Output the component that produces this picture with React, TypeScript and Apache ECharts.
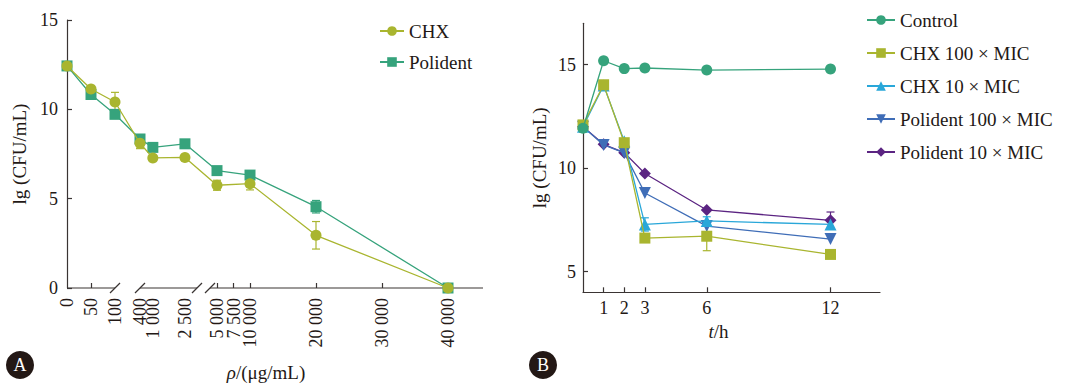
import React, { useEffect, useRef } from "react";
import * as echarts from "echarts";

// ---------- Panel A data ----------
const concentrations = [0, 50, 100, 400, 1000, 2500, 5000, 10000, 20000, 40000];
const chxValues = [12.43, 11.14, 10.41, 8.1, 7.28, 7.31, 5.75, 5.84, 2.95, 0];
const chxErrors = [0, 0, 0.54, 0.3, 0, 0, 0.28, 0.35, 0.77, 0];
const polidentValues = [12.43, 10.83, 9.72, 8.34, 7.87, 8.07, 6.57, 6.32, 4.55, 0];
const polidentErrors = [0, 0, 0, 0.15, 0, 0, 0, 0, 0.35, 0];

const leftLabelValues = [0, 50, 100, 400, 1000, 2500, 5000, 7500, 10000, 20000, 30000, 40000];
const leftLabelTexts = ["0", "50", "100", "400", "1 000", "2 500", "5 000", "7 500", "10 000", "20 000", "30 000", "40 000"];
const leftTickValues = [50, 5000, 7500, 10000, 20000, 30000, 40000];
const leftYTicks = [0, 5, 10, 15];

// ---------- Panel B data ----------
const times = [0, 1, 2, 3, 6, 12];
const controlValues = [11.93, 15.19, 14.81, 14.84, 14.74, 14.79];
const chx100Values = [12.09, 14.03, 11.23, 6.62, 6.71, 5.83];
const chx100Errors = [0, 0, 0, 0, 0.7, 0];
const chx10Values = [12.0, 14.0, 11.3, 7.28, 7.45, 7.28];
const chx10Errors = [0, 0, 0, 0.32, 0.2, 0];
const pol100Values = [12.0, 11.12, 10.74, 8.8, 7.2, 6.57];
const pol10Values = [12.0, 11.15, 10.75, 9.74, 7.98, 7.48];
const pol10Errors = [0, 0, 0, 0, 0, 0.4];
const rightXTicks = [1, 2, 3, 6, 12];
const rightYTicks = [5, 10, 15];

const FONT = "'Liberation Serif', 'DejaVu Serif', serif";
const TEXT = "#231815";
const AXIS = "#3a3433";
const OLIVE = "#a9b52f";
const TEAL = "#36a37c";
const CYAN = "#29a7d9";
const BLUE = "#3f6db7";
const PURPLE = "#5b2482";
const TICK_FS = 18;
const LEGEND_FS = 19;
const NAME_FS = 19;

// piecewise (broken) scale of panel A's concentration axis
function brokenScale(x: number): number {
  if (x <= 100) return x * 0.48;
  if (x <= 3100) return 73 + (x - 400) * 0.0214;
  return 150 + (x - 5000) * 0.0066;
}

function labelFor(v: number): string {
  let best = 0;
  let bd = Infinity;
  leftLabelValues.forEach((lv, i) => {
    const d = Math.abs(brokenScale(lv) - v);
    if (d < bd) {
      bd = d;
      best = i;
    }
  });
  return leftLabelTexts[best];
}

function errorBars(
  name: string,
  xs: number[],
  ys: number[],
  errs: number[],
  color: string,
  axisIndex: number,
  mapX: (x: number) => number
) {
  return {
    type: "custom",
    name,
    xAxisIndex: axisIndex,
    yAxisIndex: axisIndex,
    silent: true,
    z: 1,
    encode: { x: 0, y: 1 },
    data: xs.map((x, i) => [mapX(x), ys[i], errs[i]]).filter((d) => d[2] > 0),
    renderItem: (_params: any, api: any) => {
      const x = api.value(0);
      const y = api.value(1);
      const e = api.value(2);
      const top = api.coord([x, y + e]);
      const bot = api.coord([x, y - e]);
      const w = 4;
      const st = { stroke: color, lineWidth: 1.2 };
      return {
        type: "group",
        children: [
          { type: "line", shape: { x1: top[0], y1: top[1], x2: bot[0], y2: bot[1] }, style: st },
          { type: "line", shape: { x1: top[0] - w, y1: top[1], x2: top[0] + w, y2: top[1] }, style: st },
          { type: "line", shape: { x1: bot[0] - w, y1: bot[1], x2: bot[0] + w, y2: bot[1] }, style: st },
        ],
      };
    },
  };
}

export default function App() {
  const ref = useRef<HTMLDivElement>(null);

  useEffect(() => {
    if (!ref.current) return;
    const chart = echarts.init(ref.current, undefined, { renderer: "svg" });

    const lineSeries = (
      name: string,
      xs: number[],
      ys: number[],
      color: string,
      symbol: string,
      axisIndex: number,
      z: number,
      mapX: (x: number) => number,
      extra: any = {}
    ) => ({
      type: "line",
      name,
      xAxisIndex: axisIndex,
      yAxisIndex: axisIndex,
      data: xs.map((x, i) => [mapX(x), ys[i]]),
      symbol,
      symbolSize: 11,
      showAllSymbol: true,
      z,
      itemStyle: { color },
      lineStyle: { color, width: 1.3 },
      emphasis: { disabled: true },
      ...extra,
    });

    const id = (x: number) => x;

    const option: any = {
      animation: false,
      textStyle: { fontFamily: FONT, color: TEXT },
      grid: [
        { left: 67, top: 20, width: 416, height: 271.7 },
        { left: 583, top: 23.3, width: 297, height: 269 },
      ],
      xAxis: [
        {
          type: "value",
          gridIndex: 0,
          min: 0,
          max: 416,
          splitLine: { show: false },
          axisLine: { show: false },
          axisTick: {
            show: true,
            inside: true,
            length: 5,
            customValues: leftTickValues.map(brokenScale),
            lineStyle: { color: AXIS, width: 1.2 },
          },
          axisLabel: {
            show: true,
            rotate: 90,
            margin: 10,
            fontSize: TICK_FS,
            fontFamily: FONT,
            color: TEXT,
            customValues: leftLabelValues.map(brokenScale),
            formatter: (v: number) => labelFor(v),
          },
          name: "{i|ρ}/(μg/mL)",
          nameLocation: "middle",
          nameGap: 75,
          nameTextStyle: {
            fontSize: NAME_FS,
            fontFamily: FONT,
            color: TEXT,
            padding: [0, 18, 0, 0],
            rich: { i: { fontStyle: "italic", fontSize: NAME_FS, fontFamily: FONT, color: TEXT } },
          },
        },
        {
          type: "value",
          gridIndex: 1,
          min: 0,
          max: 14.4,
          splitLine: { show: false },
          axisLine: { show: true, lineStyle: { color: AXIS, width: 1.2 } },
          axisTick: {
            show: true,
            inside: true,
            length: 5,
            customValues: rightXTicks,
            lineStyle: { color: AXIS, width: 1.2 },
          },
          axisLabel: {
            show: true,
            margin: 7,
            fontSize: TICK_FS,
            fontFamily: FONT,
            color: TEXT,
            customValues: rightXTicks,
          },
          name: "{i|t}/h",
          nameLocation: "middle",
          nameGap: 30,
          nameTextStyle: {
            fontSize: NAME_FS,
            fontFamily: FONT,
            color: TEXT,
            padding: [0, 26, 0, 0],
            rich: { i: { fontStyle: "italic", fontSize: NAME_FS, fontFamily: FONT, color: TEXT } },
          },
        },
      ],
      yAxis: [
        {
          type: "value",
          gridIndex: 0,
          min: 0,
          max: 15,
          splitLine: { show: false },
          axisLine: { show: true, lineStyle: { color: AXIS, width: 1.2 } },
          axisTick: {
            show: true,
            inside: true,
            length: 5,
            customValues: leftYTicks,
            lineStyle: { color: AXIS, width: 1.2 },
          },
          axisLabel: {
            margin: 9,
            fontSize: TICK_FS,
            fontFamily: FONT,
            color: TEXT,
            customValues: leftYTicks,
          },
          name: "lg (CFU/mL)",
          nameLocation: "middle",
          nameRotate: 90,
          nameGap: 38,
          nameTextStyle: { fontSize: NAME_FS, fontFamily: FONT, color: TEXT },
        },
        {
          type: "value",
          gridIndex: 1,
          min: 4,
          max: 17,
          splitLine: { show: false },
          axisLine: { show: true, lineStyle: { color: AXIS, width: 1.2 } },
          axisTick: {
            show: true,
            inside: true,
            length: 5,
            customValues: rightYTicks,
            lineStyle: { color: AXIS, width: 1.2 },
          },
          axisLabel: {
            margin: 7,
            fontSize: TICK_FS,
            fontFamily: FONT,
            color: TEXT,
            customValues: rightYTicks,
          },
          name: "lg (CFU/mL)",
          nameLocation: "middle",
          nameRotate: 90,
          nameGap: 34,
          nameTextStyle: { fontSize: NAME_FS, fontFamily: FONT, color: TEXT },
        },
      ],
      legend: [
        {
          data: ["CHX", "Polident"],
          orient: "vertical",
          left: 374,
          top: 16,
          itemWidth: 24,
          itemHeight: 12,
          itemGap: 11,
          textStyle: { fontSize: LEGEND_FS, fontFamily: FONT, color: TEXT, lineHeight: 20 },
        },
        {
          data: ["Control", "CHX 100 × MIC", "CHX 10 × MIC", "Polident 100 × MIC", "Polident 10 × MIC"],
          orient: "vertical",
          left: 861,
          top: 5,
          itemWidth: 28,
          itemHeight: 12,
          itemGap: 13,
          textStyle: { fontSize: LEGEND_FS, fontFamily: FONT, color: TEXT, lineHeight: 20 },
        },
      ],
      series: [
        // axis line of panel A with breaks
        {
          type: "custom",
          name: "axis-break",
          xAxisIndex: 0,
          yAxisIndex: 0,
          silent: true,
          z: 0,
          encode: { x: [0, 1], y: 2 },
          data: [
            [0, 48, 0, 0, 1],
            [73, 130, 0, 1, 1],
            [143, 416, 0, 1, 0],
          ],
          renderItem: (_p: any, api: any) => {
            const a = api.coord([api.value(0), 0]);
            const b = api.coord([api.value(1), 0]);
            const st = { stroke: AXIS, lineWidth: 1.2 };
            const children: any[] = [
              { type: "line", shape: { x1: a[0], y1: a[1], x2: b[0], y2: b[1] }, style: st },
            ];
            const s = 5;
            if (api.value(3)) children.push({ type: "line", shape: { x1: a[0] - s, y1: a[1] + s, x2: a[0] + s, y2: a[1] - s }, style: st });
            if (api.value(4)) children.push({ type: "line", shape: { x1: b[0] - s, y1: b[1] + s, x2: b[0] + s, y2: b[1] - s }, style: st });
            return { type: "group", children };
          },
        },
        errorBars("chx-err", concentrations, chxValues, chxErrors, OLIVE, 0, brokenScale),
        errorBars("pol-err", concentrations, polidentValues, polidentErrors, TEAL, 0, brokenScale),
        lineSeries("Polident", concentrations, polidentValues, TEAL, "rect", 0, 3, brokenScale),
        lineSeries("CHX", concentrations, chxValues, OLIVE, "circle", 0, 4, brokenScale),

        errorBars("chx100-err", times, chx100Values, chx100Errors, OLIVE, 1, id),
        errorBars("chx10-err", times, chx10Values, chx10Errors, CYAN, 1, id),
        errorBars("pol10-err", times, pol10Values, pol10Errors, PURPLE, 1, id),
        lineSeries("Control", times, controlValues, TEAL, "circle", 1, 7, id),
        lineSeries("CHX 100 × MIC", times, chx100Values, OLIVE, "rect", 1, 6, id),
        lineSeries("CHX 10 × MIC", times, chx10Values, CYAN, "triangle", 1, 5, id, { symbolSize: 12 }),
        lineSeries("Polident 100 × MIC", times, pol100Values, BLUE, "triangle", 1, 4, id, {
          symbolRotate: 180,
          symbolSize: 12,
        }),
        lineSeries("Polident 10 × MIC", times, pol10Values, PURPLE, "diamond", 1, 3, id, { symbolSize: 12 }),
      ],
      graphic: [
        { type: "circle", shape: { cx: 20, cy: 365, r: 14 }, style: { fill: "#231815" } },
        {
          type: "text",
          x: 20,
          y: 365,
          style: { text: "A", fill: "#fff", font: `18px ${FONT}`, align: "center", verticalAlign: "middle" },
        },
        { type: "circle", shape: { cx: 543, cy: 365, r: 14 }, style: { fill: "#231815" } },
        {
          type: "text",
          x: 543,
          y: 365,
          style: { text: "B", fill: "#fff", font: `18px ${FONT}`, align: "center", verticalAlign: "middle" },
        },
      ],
    };

    chart.setOption(option);
    return () => chart.dispose();
  }, []);

  return (
    <div
      ref={ref}
      style={{ position: "absolute", left: 0, top: 0, width: 1068, height: 387, background: "#fff" }}
    />
  );
}
